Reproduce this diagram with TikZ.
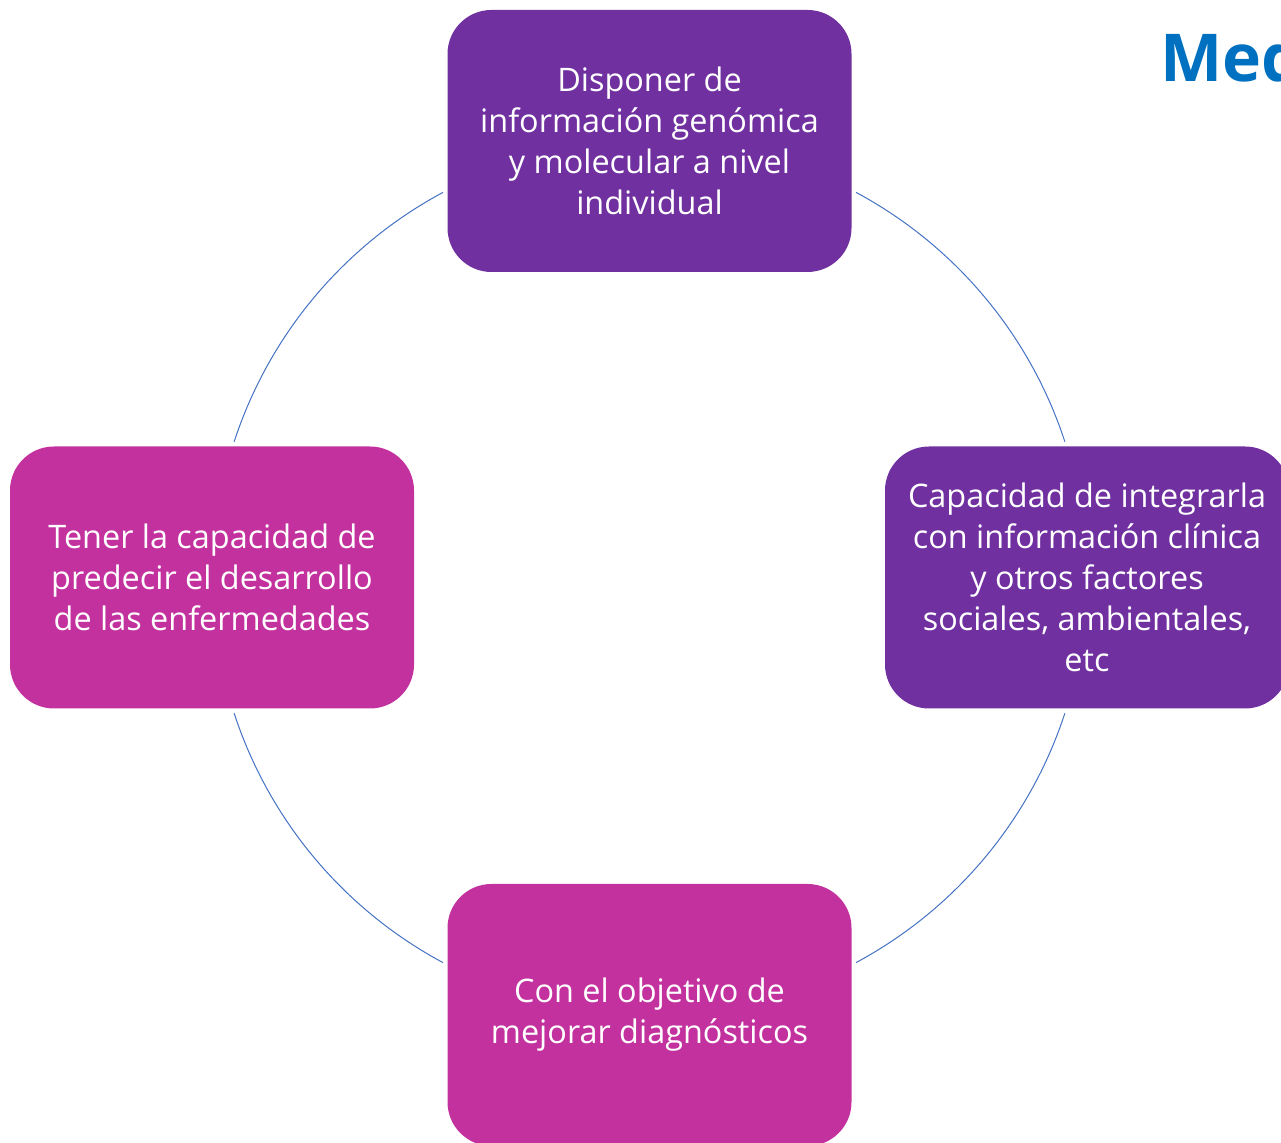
\documentclass[tikz,border=0pt]{standalone}
\usepackage{fontspec}
\setmainfont{Open Sans}

\begin{document}
\begin{tikzpicture}[x=1pt, y=1pt,
    box/.style={rectangle, rounded corners=44pt, minimum width=404pt, minimum height=262pt, inner sep=0pt, text=white, align=center, font=\fontsize{32.4}{41}\selectfont},
    ring/.style={draw=ringcolor, line width=1pt},
    title/.style={anchor=base west, inner sep=0pt, text=titleblue, font=\fontsize{66}{80}\selectfont\bfseries}]

    % Define colors
    \definecolor{darkpurple}{RGB}{112,48,160}
    \definecolor{pinkpurple}{RGB}{195,49,159}
    \definecolor{ringcolor}{RGB}{68,114,196}
    \definecolor{titleblue}{RGB}{0,112,192}

    \useasboundingbox (0,0) rectangle (1281,1142);
    \clip (0,0) rectangle (1281,1142);

    % Centre of the ring
    \coordinate (hub) at (649.5,564.5);

    % Ring arcs between the boxes
    \foreach \a/\b in {118.2/161.9, 198.1/241.8, 298.2/341.9, 18.1/61.8}
        \draw[ring] (hub) ++(\a:437) arc[start angle=\a, end angle=\b, radius=437];

    % Nodes
    \node[box, fill=darkpurple] (genomic) at (649.5,1001) {Disponer de\\información genómica\\y molecular a nivel\\individual};
    \node[box, fill=darkpurple] (clinical) at (1087,564.5) {Capacidad de integrarla\\con información clínica\\y otros factores\\sociales, ambientales,\\etc};
    \node[box, fill=pinkpurple] (diagnosis) at (649.5,127) {Con el objetivo de\\mejorar diagnósticos};
    \node[box, fill=pinkpurple] (predict) at (212,564.5) {Tener la capacidad de\\predecir el desarrollo\\de las enfermedades};

    % Title, cut by the page edge
    \node[title] (heading) at (1160,1060) {Med};

\end{tikzpicture}
\end{document}
